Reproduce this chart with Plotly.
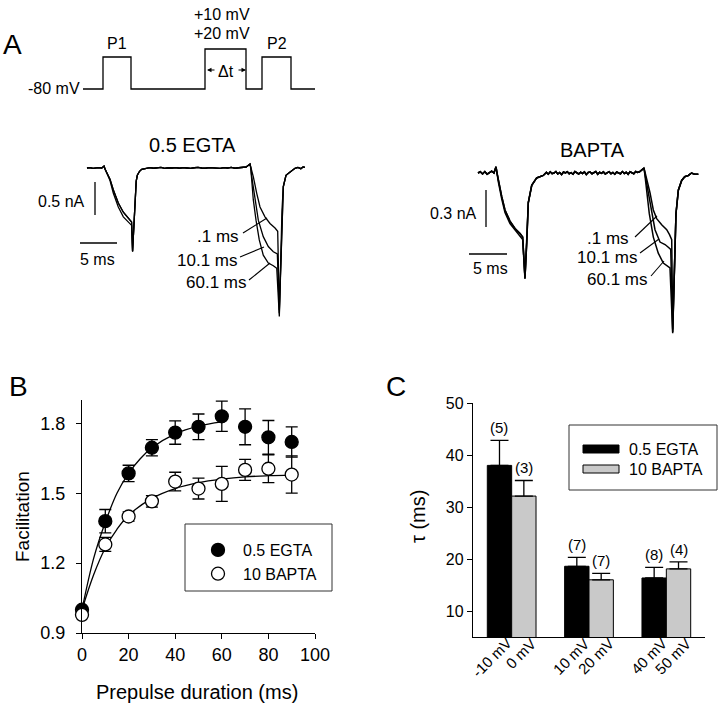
import plotly.graph_objects as go

W, H = 720, 705
FONT = "Arial, Liberation Sans, Helvetica, sans-serif"

# ======================= DATA =======================
# Panel A – voltage protocol (schematic time units, mV)
prot_t = [0, 20, 48, 122, 163, 179, 208, 232]
prot_v = [-80, 0, -80, 20, -80, 0, -80, -80]

# Panel A left – 0.5 EGTA currents (time ms, current nA)
egta_pre_t = [0.0, 0.4, 0.8, 1.2, 1.6, 2.0, 2.3]
egta_pre_i = [0.00, 0.006, -0.006, 0.00, 0.006, 0.00, 0.03]
egta_p1_t = [2.45, 2.8, 3.11, 3.55, 4.23, 4.91, 5.4, 5.81, 6.03, 6.16, 6.3, 6.49, 6.65, 6.8, 7.1, 7.39, 8.05]
egta_p1a_i = [-0.02, -0.10, -0.17, -0.33, -0.53, -0.67, -0.74, -0.79, -0.82, -1.26, -0.90, -0.38, -0.20, -0.11, -0.05, -0.02, 0.0]
egta_p1b_i = [-0.02, -0.11, -0.19, -0.38, -0.59, -0.74, -0.80, -0.84, -0.87, -1.27, -0.92, -0.38, -0.20, -0.11, -0.05, -0.02, 0.0]
egta_base_t = [8.5, 9.0, 9.5, 10.0, 10.5, 11.0, 11.5, 12.0, 12.5, 13.0, 13.5, 14.0, 14.5, 15.0,
               15.5, 16.0, 16.5, 17.0, 17.5, 18.0, 18.5, 19.0, 19.5, 20.0, 20.5, 21.0, 21.5]
egta_base_i = [0.006, -0.004, 0.0, 0.008, -0.006, 0.004, 0.0, 0.006, -0.004, 0.006, 0.0, -0.006, 0.004, 0.008,
               0.0, -0.004, 0.006, 0.0, 0.004, -0.006, 0.006, 0.0, 0.008, -0.004, 0.004, 0.008, 0.015]
egta_p2_01_t = [22.03, 22.2, 22.47, 22.93, 23.38, 24.05, 24.73, 25.41, 25.77, 25.99]
egta_p2_01_i = [0.06, 0.0, -0.13, -0.38, -0.59, -0.74, -0.84, -0.91, -0.96, -2.15]
egta_p2_10_t = [22.03, 22.15, 22.26, 22.70, 23.15, 23.82, 24.50, 25.18, 25.72, 25.99]
egta_p2_10_i = [0.06, 0.0, -0.13, -0.48, -0.79, -1.04, -1.19, -1.27, -1.30, -2.20]
egta_p2_60_t = [22.03, 22.12, 22.26, 22.47, 22.84, 23.28, 23.82, 24.50, 25.18, 25.64, 25.99]
egta_p2_60_i = [0.06, 0.0, -0.18, -0.48, -0.79, -1.09, -1.32, -1.44, -1.48, -1.52, -2.25]
egta_post_t = [26.18, 26.35, 26.53, 26.89, 27.43, 28.11, 28.5, 28.9, 29.2, 29.46]
egta_post_i = [-1.39, -0.64, -0.28, -0.11, -0.06, -0.005, 0.01, -0.01, 0.015, 0.01]

# Panel A right – BAPTA currents (time ms, current nA)
bapta_pre_t = [0.0, 0.3, 0.6, 0.9, 1.2, 1.5, 1.8, 2.1, 2.37]
bapta_pre_i = [0.0, 0.01, -0.008, 0.012, -0.01, 0.006, 0.015, 0.0, 0.05]
bapta_p1_t = [2.5, 2.67, 3.12, 3.55, 4.21, 4.87, 5.2, 5.53, 5.88, 6.18, 6.41, 6.62, 7.07, 7.72, 8.59]
bapta_p1a_i = [0.0, -0.06, -0.19, -0.30, -0.39, -0.45, -0.47, -0.49, -0.52, -0.85, -0.57, -0.24, -0.10, -0.04, -0.02]
bapta_p1b_i = [0.0, -0.07, -0.21, -0.32, -0.41, -0.46, -0.49, -0.51, -0.54, -0.86, -0.58, -0.24, -0.10, -0.04, -0.02]
bapta_base_t = [9.0, 9.25, 9.5, 9.75, 10.0, 10.25, 10.5, 10.75, 11.0, 11.25, 11.5, 11.75, 12.0,
                12.25, 12.5, 12.75, 13.0, 13.25, 13.5, 13.75, 14.0, 14.25, 14.5, 14.75, 15.0, 15.25,
                15.5, 15.75, 16.0, 16.25, 16.5, 16.75, 17.0, 17.25, 17.5, 17.75, 18.0, 18.25, 18.5,
                18.75, 19.0, 19.25, 19.5, 19.75, 20.0, 20.25, 20.5, 20.75, 21.0, 21.25, 21.5]
bapta_base_i = [0.005, -0.01, 0.01, -0.005, 0.0, 0.012, -0.008, 0.004, -0.012, 0.008,
                0.0, 0.01, -0.006, 0.003, -0.01, 0.012, 0.0, -0.008, 0.006, -0.004,
                0.01, -0.012, 0.004, 0.008, -0.006, 0.0, 0.012, -0.01, 0.006, -0.003,
                0.009, -0.008, 0.002, 0.011, -0.007, 0.004, -0.01, 0.008, 0.0, -0.006,
                0.012, -0.004, 0.006, -0.01, 0.01, 0.0, -0.006, 0.012, 0.004, 0.01, 0.02]
bapta_p2_01_t = [21.84, 22.0, 22.2, 22.63, 23.07, 23.51, 24.17, 24.83, 25.2, 25.49, 25.62]
bapta_p2_01_i = [0.04, 0.0, -0.05, -0.16, -0.30, -0.37, -0.42, -0.46, -0.50, -0.54, -1.27]
bapta_p2_10_t = [21.84, 22.0, 22.41, 22.86, 23.29, 23.95, 24.61, 25.0, 25.36, 25.62]
bapta_p2_10_i = [0.04, -0.02, -0.16, -0.33, -0.46, -0.56, -0.58, -0.60, -0.62, -1.29]
bapta_p2_60_t = [21.84, 21.95, 22.2, 22.54, 23.07, 23.72, 24.38, 25.26, 25.62]
bapta_p2_60_i = [0.04, -0.01, -0.16, -0.33, -0.52, -0.65, -0.73, -0.77, -1.30]
bapta_post_t = [25.83, 26.05, 26.36, 26.8, 27.2, 27.67, 28.1, 28.5, 28.99]
bapta_post_i = [-0.70, -0.33, -0.14, -0.06, -0.03, -0.02, 0.0, -0.01, -0.01]

interval_labels = [".1 ms", "10.1 ms", "60.1 ms"]
scale_ms = 5
scale_egta_nA = 0.5
scale_bapta_nA = 0.3

# Panel B – facilitation vs prepulse duration
dur = [0, 10, 20, 30, 40, 50, 60, 70, 80, 90]
egta_fac = [1.0, 1.38, 1.585, 1.695, 1.76, 1.785, 1.83, 1.785, 1.74, 1.72]
egta_fac_err = [0.01, 0.05, 0.035, 0.035, 0.05, 0.055, 0.065, 0.077, 0.072, 0.065]
bapta_fac = [0.978, 1.28, 1.40, 1.465, 1.55, 1.52, 1.54, 1.60, 1.605, 1.58]
bapta_fac_err = [0.01, 0.03, 0.02, 0.025, 0.04, 0.045, 0.075, 0.045, 0.06, 0.08]
egta_fit_t = [0, 5, 10, 15, 20, 25, 30, 40, 50, 60]
egta_fit_y = [1.0, 1.22, 1.375, 1.50, 1.585, 1.648, 1.695, 1.755, 1.788, 1.806]
bapta_fit_t = [0, 5, 10, 15, 20, 30, 40, 50, 60, 70, 80, 90]
bapta_fit_y = [1.0, 1.15, 1.265, 1.345, 1.405, 1.478, 1.52, 1.545, 1.56, 1.57, 1.575, 1.578]

# Panel C – tau
groups = ["-10/0", "10/20", "40/50"]
egta_volt = ["-10 mV", "10 mV", "40 mV"]
bapta_volt = ["0 mV", "20 mV", "50 mV"]
egta_tau = [38.0, 18.6, 16.35]
egta_tau_err = [4.8, 1.7, 2.05]
egta_n = ["(5)", "(7)", "(8)"]
bapta_tau = [32.1, 16.0, 18.1]
bapta_tau_err = [3.0, 1.25, 1.35]
bapta_n = ["(3)", "(7)", "(4)"]

# ======================= GEOMETRY HELPERS =======================
def px_x(px):
    return px / W

def px_y(py):
    return 1 - py / H

def dom_x(p0, p1):
    return [p0 / W, p1 / W]

def dom_y(top, bot):
    return [1 - bot / H, 1 - top / H]

def hrange(p0, p1, p_ref, v_ref, ppu):
    return [v_ref + (p0 - p_ref) / ppu, v_ref + (p1 - p_ref) / ppu]

def vrange(top, bot, p_ref, v_ref, ppu):
    return [v_ref - (bot - p_ref) / ppu, v_ref + (p_ref - top) / ppu]

EG = dict(x0=75, x1=315, top=118, bot=335, t0=87, tppu=7.4, i0=168, ippu=66)
BA = dict(x0=460, x1=712, top=118, bot=345, t0=478, tppu=7.6, i0=173, ippu=123.3)

def t_at(px, g):
    return (px - g["t0"]) / g["tppu"]

def i_at(py, g):
    return (g["i0"] - py) / g["ippu"]

BLACK = "black"
fig = go.Figure()

# ---- protocol ----
fig.add_trace(go.Scatter(x=prot_t, y=prot_v, mode="lines",
                         line=dict(color=BLACK, width=1.3, shape="hv"),
                         xaxis="x", yaxis="y", showlegend=False, hoverinfo="skip"))

# ---- EGTA sweeps ----
eg_sweeps = [(egta_p1a_i, egta_p2_01_t, egta_p2_01_i),
             (egta_p1b_i, egta_p2_10_t, egta_p2_10_i),
             (egta_p1a_i, egta_p2_60_t, egta_p2_60_i)]
for p1i, p2t, p2i in eg_sweeps:
    xs = egta_pre_t + egta_p1_t + egta_base_t + p2t + egta_post_t
    ys = egta_pre_i + p1i + egta_base_i + p2i + egta_post_i
    fig.add_trace(go.Scatter(x=xs, y=ys, mode="lines", line=dict(color=BLACK, width=1.3),
                             xaxis="x2", yaxis="y2", showlegend=False, hoverinfo="skip"))

# ---- BAPTA sweeps ----
ba_sweeps = [(bapta_p1a_i, bapta_p2_01_t, bapta_p2_01_i),
             (bapta_p1b_i, bapta_p2_10_t, bapta_p2_10_i),
             (bapta_p1a_i, bapta_p2_60_t, bapta_p2_60_i)]
for p1i, p2t, p2i in ba_sweeps:
    xs = bapta_pre_t + bapta_p1_t + bapta_base_t + p2t + bapta_post_t
    ys = bapta_pre_i + p1i + bapta_base_i + p2i + bapta_post_i
    fig.add_trace(go.Scatter(x=xs, y=ys, mode="lines", line=dict(color=BLACK, width=1.5),
                             xaxis="x3", yaxis="y3", showlegend=False, hoverinfo="skip"))

# ---- Panel B ----
fig.add_trace(go.Scatter(x=egta_fit_t, y=egta_fit_y, mode="lines",
                         line=dict(color=BLACK, width=1.3, shape="spline"),
                         xaxis="x4", yaxis="y4", showlegend=False, hoverinfo="skip"))
fig.add_trace(go.Scatter(x=bapta_fit_t, y=bapta_fit_y, mode="lines",
                         line=dict(color=BLACK, width=1.3, shape="spline"),
                         xaxis="x4", yaxis="y4", showlegend=False, hoverinfo="skip"))
fig.add_trace(go.Scatter(x=dur, y=egta_fac, mode="markers", name="0.5 EGTA",
                         marker=dict(symbol="circle", size=13, color=BLACK,
                                     line=dict(color=BLACK, width=1.3)),
                         error_y=dict(type="data", array=egta_fac_err, color=BLACK,
                                      thickness=1.3, width=6),
                         cliponaxis=False, xaxis="x4", yaxis="y4"))
fig.add_trace(go.Scatter(x=dur, y=bapta_fac, mode="markers", name="10 BAPTA",
                         marker=dict(symbol="circle", size=13, color="white",
                                     line=dict(color=BLACK, width=1.3)),
                         error_y=dict(type="data", array=bapta_fac_err, color=BLACK,
                                      thickness=1.3, width=6),
                         cliponaxis=False, xaxis="x4", yaxis="y4"))

# ---- Panel C ----
gidx = list(range(len(groups)))
BARGAP = 0.37
half = (1 - BARGAP) / 4  # centre offset of each bar in a pair
GRAY = "#c9c9c9"
fig.add_trace(go.Bar(x=gidx, y=egta_tau, name="0.5 EGTA",
                     marker=dict(color=BLACK, line=dict(color=BLACK, width=1)),
                     error_y=dict(type="data", array=egta_tau_err, arrayminus=[0] * len(gidx),
                                  symmetric=False, color=BLACK, thickness=1.3, width=9),
                     xaxis="x5", yaxis="y5", showlegend=False))
fig.add_trace(go.Bar(x=gidx, y=bapta_tau, name="10 BAPTA",
                     marker=dict(color=GRAY, line=dict(color=BLACK, width=1)),
                     error_y=dict(type="data", array=bapta_tau_err, arrayminus=[0] * len(gidx),
                                  symmetric=False, color=BLACK, thickness=1.3, width=9),
                     xaxis="x5", yaxis="y5", showlegend=False))

# ======================= AXES =======================
hidden = dict(visible=False, fixedrange=True, showgrid=False, zeroline=False)
axis_style = dict(showline=True, linecolor=BLACK, linewidth=1.3, showgrid=False, zeroline=False,
                  ticks="outside", ticklen=5, tickwidth=1.3, tickcolor=BLACK,
                  tickfont=dict(size=18, color=BLACK, family=FONT), fixedrange=True)

fig.update_layout(
    width=W, height=H, template="none",
    paper_bgcolor="white", plot_bgcolor="rgba(0,0,0,0)",
    margin=dict(l=0, r=0, t=0, b=0),
    font=dict(family=FONT, color=BLACK, size=16),
    barmode="group", bargap=BARGAP, bargroupgap=0,
    xaxis=dict(hidden, domain=dom_x(83, 315), range=hrange(83, 315, 83, 0, 1.0), anchor="y"),
    yaxis=dict(hidden, domain=dom_y(40, 95), range=vrange(40, 95, 89, -80, 0.4), anchor="x"),
    xaxis2=dict(hidden, domain=dom_x(EG["x0"], EG["x1"]),
                range=hrange(EG["x0"], EG["x1"], EG["t0"], 0, EG["tppu"]), anchor="y2"),
    yaxis2=dict(hidden, domain=dom_y(EG["top"], EG["bot"]),
                range=vrange(EG["top"], EG["bot"], EG["i0"], 0, EG["ippu"]), anchor="x2"),
    xaxis3=dict(hidden, domain=dom_x(BA["x0"], BA["x1"]),
                range=hrange(BA["x0"], BA["x1"], BA["t0"], 0, BA["tppu"]), anchor="y3"),
    yaxis3=dict(hidden, domain=dom_y(BA["top"], BA["bot"]),
                range=vrange(BA["top"], BA["bot"], BA["i0"], 0, BA["ippu"]), anchor="x3"),
    xaxis4=dict(axis_style, domain=dom_x(82, 315), range=[0, 100],
                tickvals=[0, 20, 40, 60, 80, 100], anchor="y4"),
    yaxis4=dict(axis_style, domain=dom_y(400, 633), range=[0.9, 1.9],
                tickvals=[0.9, 1.2, 1.5, 1.8], tickformat=".1f", anchor="x4",
                ticklabelstandoff=7),
    xaxis5=dict(axis_style, domain=dom_x(473, 705), range=[-0.5, 2.5],
                showticklabels=False, ticks="", anchor="y5"),
    yaxis5=dict(axis_style, domain=dom_y(403, 637), range=[5, 50],
                tickvals=[10, 20, 30, 40, 50], anchor="x5",
                tickfont=dict(size=16, color=BLACK, family=FONT)),
    legend=dict(x=px_x(193), y=px_y(533), xanchor="left", yanchor="top",
                bgcolor="rgba(0,0,0,0)", borderwidth=0, itemwidth=40,
                font=dict(size=16, color=BLACK, family=FONT), tracegroupgap=0),
)

# ======================= ANNOTATIONS =======================
def ann(text, px, py, size=16, xanchor="center", yanchor="middle", **kw):
    return dict(text=text, x=px_x(px), y=px_y(py), xref="paper", yref="paper",
                showarrow=False, xanchor=xanchor, yanchor=yanchor,
                font=dict(size=size, color=BLACK, family=FONT), **kw)

anns = [
    ann("A", 13, 45, size=28), ann("B", 18, 386, size=28), ann("C", 396, 386, size=28),
    ann("-80 mV", 82, 89, xanchor="right"),
    ann("P1", 117, 44), ann("P2", 277, 44),
    ann("+10 mV", 222, 14), ann("+20 mV", 222, 34),
    ann("Δt", 225.5, 71),
    ann("0.5 EGTA", 192, 145, size=20), ann("BAPTA", 592, 150, size=20),
    ann("0.5 nA", 87, 201, xanchor="right"), ann("5 ms", 98, 259),
    ann("0.3 nA", 479, 213, xanchor="right"), ann("5 ms", 490, 268),
    ann(interval_labels[0], 241, 236, size=17, xanchor="right"),
    ann(interval_labels[1], 239, 260, size=17, xanchor="right"),
    ann(interval_labels[2], 248, 282, size=17, xanchor="right"),
    ann(interval_labels[0], 631, 238, size=17, xanchor="right"),
    ann(interval_labels[1], 639, 257, size=17, xanchor="right"),
    ann(interval_labels[2], 649, 279, size=17, xanchor="right"),
    ann("Facilitation", 22, 517, size=19, textangle=-90),
    ann("Prepulse duration (ms)", 197, 692, size=20),
    ann("τ (ms)", 418, 517, size=20, textangle=-90),
    ann("0.5 EGTA", 627, 449, xanchor="left"),
    ann("10 BAPTA", 627, 469, xanchor="left"),
]
# Δt arrows
for edge_px, off in [(207, 9), (246, -9)]:
    anns.append(dict(text="", x=px_x(edge_px), y=px_y(70), xref="paper", yref="paper",
                     showarrow=True, ax=off, ay=0, arrowhead=2, arrowsize=0.9,
                     arrowwidth=1, arrowcolor=BLACK))
# n labels above bars + rotated voltage labels under bars
for vals, errs, labels, volts, sign in [(egta_tau, egta_tau_err, egta_n, egta_volt, -1),
                                        (bapta_tau, bapta_tau_err, bapta_n, bapta_volt, 1)]:
    for g, v, e, lab, vl in zip(gidx, vals, errs, labels, volts):
        anns.append(dict(text=lab, x=g + sign * half, y=v + e, xref="x5", yref="y5",
                         showarrow=False, yanchor="bottom", yshift=2,
                         font=dict(size=15, color=BLACK, family=FONT)))
        anns.append(dict(text=vl, x=g + sign * half, y=px_y(641), xref="x5", yref="paper",
                         showarrow=False, xanchor="right", yanchor="top", xshift=18, yshift=9,
                         textangle=-45, font=dict(size=15, color=BLACK, family=FONT)))
fig.update_layout(annotations=anns)

# ======================= SHAPES =======================
def seg_px(x0, y0, x1, y1, w=1.1):
    return dict(type="line", xref="paper", yref="paper",
                x0=px_x(x0), y0=px_y(y0), x1=px_x(x1), y1=px_y(y1),
                line=dict(color=BLACK, width=w))

shapes = []
# scale bars EGTA
tx = t_at(95, EG); iy = i_at(182, EG)
shapes.append(dict(type="line", xref="x2", yref="y2", x0=tx, x1=tx, y0=iy, y1=iy - scale_egta_nA,
                   line=dict(color=BLACK, width=1.3)))
tx = t_at(80, EG); iy = i_at(243, EG)
shapes.append(dict(type="line", xref="x2", yref="y2", x0=tx, x1=tx + scale_ms, y0=iy, y1=iy,
                   line=dict(color=BLACK, width=1.3)))
# scale bars BAPTA
tx = t_at(486, BA); iy = i_at(190, BA)
shapes.append(dict(type="line", xref="x3", yref="y3", x0=tx, x1=tx, y0=iy, y1=iy - scale_bapta_nA,
                   line=dict(color=BLACK, width=1.3)))
tx = t_at(469, BA); iy = i_at(254, BA)
shapes.append(dict(type="line", xref="x3", yref="y3", x0=tx, x1=tx + scale_ms, y0=iy, y1=iy,
                   line=dict(color=BLACK, width=1.3)))
# leader lines
shapes += [seg_px(243, 233, 267, 218), seg_px(240, 257, 264, 247), seg_px(249, 280, 270, 263),
           seg_px(635, 237, 657, 216), seg_px(640, 253, 659, 239), seg_px(651, 276, 664, 261)]
# legend boxes
shapes.append(dict(type="rect", xref="paper", yref="paper", x0=px_x(185), x1=px_x(332),
                   y0=px_y(591), y1=px_y(524), line=dict(color="#333333", width=1)))
shapes.append(dict(type="rect", xref="paper", yref="paper", x0=px_x(569), x1=px_x(717),
                   y0=px_y(490), y1=px_y(425), line=dict(color="#333333", width=1)))
# C legend swatches
shapes.append(dict(type="rect", xref="paper", yref="paper", x0=px_x(583), x1=px_x(619),
                   y0=px_y(453), y1=px_y(445), fillcolor=BLACK, line=dict(color=BLACK, width=1)))
shapes.append(dict(type="rect", xref="paper", yref="paper", x0=px_x(583), x1=px_x(619),
                   y0=px_y(473), y1=px_y(465), fillcolor=GRAY, line=dict(color=BLACK, width=1)))
fig.update_layout(shapes=shapes)

fig.write_html("out.html", config={"displayModeBar": False},
               post_script="document.body.style.margin='0px';")
